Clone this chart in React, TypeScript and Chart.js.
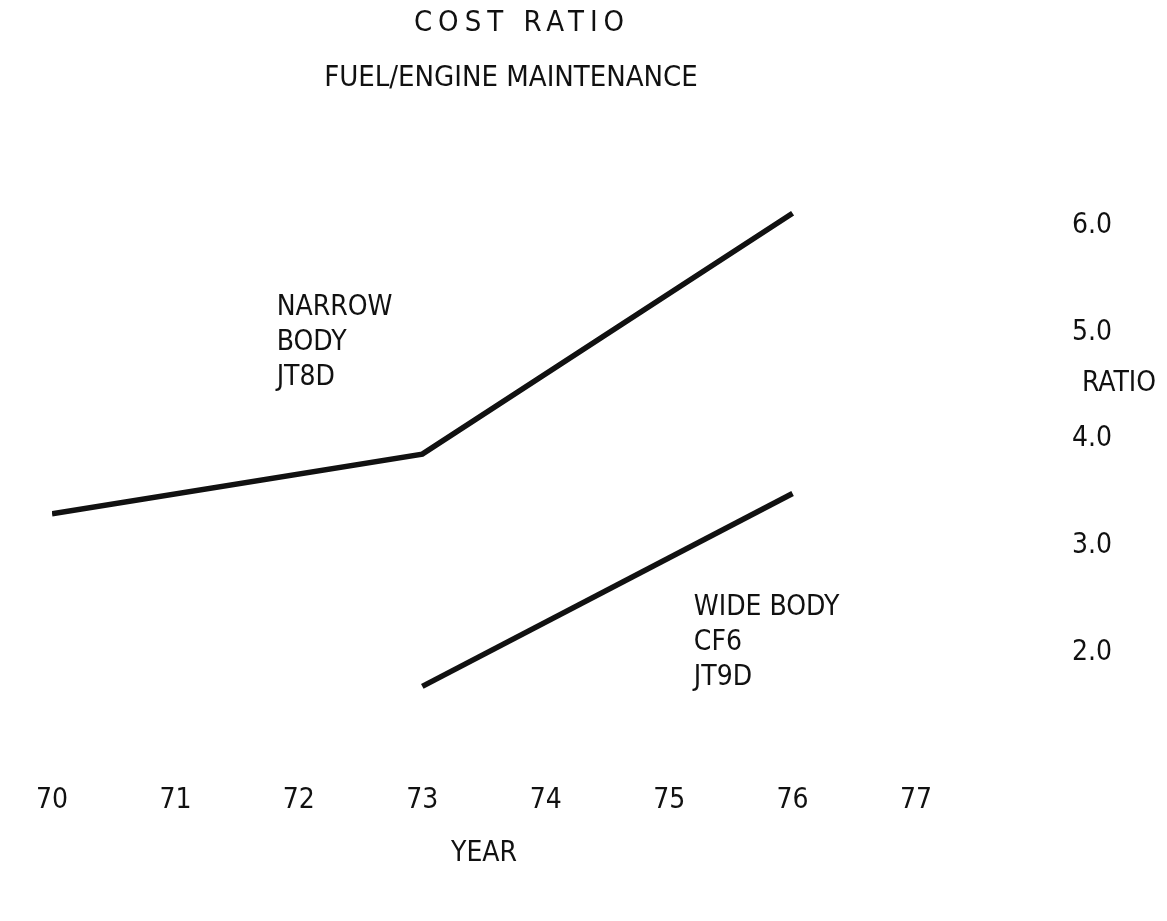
import React, { useEffect, useRef } from "react";
import { Chart, registerables } from "chart.js";

Chart.register(...registerables);

// ---- data ----
const yearTicks = [70, 71, 72, 73, 74, 75, 76, 77];
const ratioTicks = [2, 3, 4, 5, 6];

const narrowYears = [70, 73, 76];
const narrowRatio = [3.3, 3.86, 6.12];

const wideYears = [73, 76];
const wideRatio = [1.68, 3.49];

const narrowLabel = ["NARROW", "BODY", "JT8D"];
const wideLabel = ["WIDE BODY", "CF6", "JT9D"];

const titleText = "COST RATIO";
const subtitleText = "FUEL/ENGINE MAINTENANCE";
const xTitle = "YEAR";
const yTitle = "RATIO";

const FONT = '"Liberation Sans Narrow", "DejaVu Sans Condensed", "Arial Narrow", sans-serif';
const INK = "#111";

const textPlugin = {
  id: "textPlugin",
  afterDraw(chart: any) {
    const { ctx, scales } = chart;
    const x = scales.x;
    const y = scales.y;
    ctx.save();
    ctx.fillStyle = INK;
    ctx.textBaseline = "middle";

    // titles
    ctx.font = `29px ${FONT}`;
    ctx.textAlign = "center";
    if ("letterSpacing" in ctx) (ctx as any).letterSpacing = "6px";
    ctx.fillText(titleText, 522, 23);
    if ("letterSpacing" in ctx) (ctx as any).letterSpacing = "0px";
    ctx.fillText(subtitleText, 511, 78);

    // annotations
    ctx.font = `28px ${FONT}`;
    ctx.textAlign = "left";
    const nx = x.getPixelForValue(71.82);
    const ny = y.getPixelForValue(5.23);
    narrowLabel.forEach((t, i) => ctx.fillText(t, nx, ny + i * 35));
    const wx = x.getPixelForValue(75.2);
    const wy = y.getPixelForValue(2.42);
    wideLabel.forEach((t, i) => ctx.fillText(t, wx, wy + i * 35));

    // y axis title (horizontal)
    ctx.fillText(yTitle, y.left + 166, y.getPixelForValue(4.52));
    ctx.restore();
  },
};

export default function App() {
  const ref = useRef<HTMLCanvasElement | null>(null);

  useEffect(() => {
    if (!ref.current) return;
    const chart = new Chart(ref.current, {
      type: "line",
      data: {
        datasets: [
          {
            label: "Narrow body JT8D",
            data: narrowYears.map((yr, i) => ({ x: yr, y: narrowRatio[i] })),
            borderColor: INK,
            borderWidth: 5.5,
            pointRadius: 0,
            tension: 0,
            borderJoinStyle: "miter",
            fill: false,
          },
          {
            label: "Wide body CF6 JT9D",
            data: wideYears.map((yr, i) => ({ x: yr, y: wideRatio[i] })),
            borderColor: INK,
            borderWidth: 5.5,
            pointRadius: 0,
            tension: 0,
            fill: false,
          },
        ],
      },
      options: {
        animation: false,
        responsive: true,
        maintainAspectRatio: false,
        layout: { padding: { top: 107, left: 23, right: 51, bottom: 2 } },
        plugins: {
          legend: { display: false },
          title: { display: false },
          tooltip: { enabled: false },
        },
        scales: {
          x: {
            type: "linear",
            position: "bottom",
            min: 70,
            max: 77,
            afterBuildTicks: (s: any) => {
              s.ticks = yearTicks.map((v) => ({ value: v }));
            },
            afterFit: (s: any) => {
              s.height = 122;
            },
            grid: { display: false, drawTicks: false },
            border: { display: false },
            ticks: {
              color: INK,
              font: { family: FONT, size: 28 },
              padding: 36,
              maxRotation: 0,
              autoSkip: false,
              callback: (v: any) => String(v),
            },
            title: {
              display: true,
              text: xTitle,
              color: INK,
              font: { family: FONT, size: 28 },
              padding: 0,
            },
          },
          y: {
            type: "linear",
            position: "right",
            min: 1.1,
            max: 6.5,
            afterBuildTicks: (s: any) => {
              s.ticks = ratioTicks.map((v) => ({ value: v }));
            },
            afterFit: (s: any) => {
              s.width = 200;
            },
            grid: { display: false, drawTicks: false },
            border: { display: false },
            ticks: {
              color: INK,
              font: { family: FONT, size: 28 },
              padding: 156,
              callback: (v: any) => Number(v).toFixed(1),
            },
          },
        },
      },
      plugins: [textPlugin],
    });
    return () => chart.destroy();
  }, []);

  return (
    <div style={{ position: "absolute", left: 0, top: 0, width: 1167, height: 921, background: "#fff" }}>
      <canvas ref={ref} />
    </div>
  );
}
